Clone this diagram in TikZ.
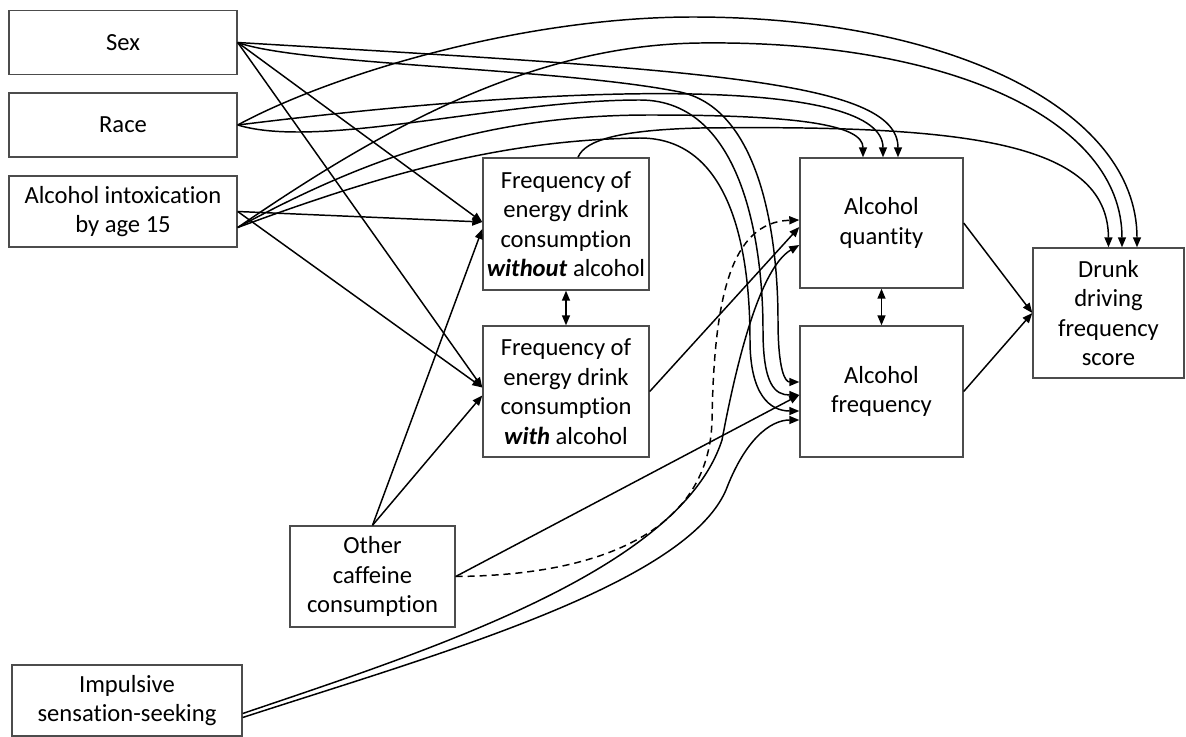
\documentclass[tikz,border=0pt]{standalone}
\usepackage{fontspec}
\setmainfont{Carlito}[Ligatures=NoCommon]
\usetikzlibrary{calc,arrows.meta}

\begin{document}
\begin{tikzpicture}[x=0.025cm, y=-0.025cm,
	box/.style 2 args={draw=black!70, line width=1pt, align=center, inner sep=0pt,
		minimum width=#1*0.025cm, minimum height=#2*0.025cm, font=\fontsize{17.5}{21}\selectfont},
	arr/.style={line width=1.05pt, -{Triangle[length=2.5mm,width=2mm]}},
	dbl/.style={line width=1.05pt, {Triangle[length=2.5mm,width=2mm]}-{Triangle[length=2.5mm,width=2mm]}},
	nonsig/.style={dash pattern=on 5pt off 3.5pt}]
			%%%%% START %%%%%
			\useasboundingbox (0,0) rectangle (1186,737);
			
			% covariates
			\node[box={228}{64}] (sex) at (123,42.5) {Sex};
			\node[box={228}{64}] (race) at (123,125) {Race};
			\node[box={228}{71}] (intox) at (123,211.5) {Alcohol intoxication\\by age 15};
			
			% energy drinks
			\node[box={166}{132}] (edno) at (566,224) {Frequency of\\energy drink\\consumption\\\textbf{\textit{without}} alcohol};
			\node[box={166}{131}] (edw) at (566,391.5) {Frequency of\\energy drink\\consumption\\\textbf{\textit{with}} alcohol};
			
			% alcohol use
			\node[box={163}{130}] (aq) at (881.5,223) {Alcohol\\quantity};
			\node[box={163}{131}] (af) at (881.5,391.5) {Alcohol\\frequency};
			\node[box={151}{130}] (dd) at (1108.5,313) {Drunk\\driving\\frequency\\score};
			
			\node[box={165}{101}] (oc) at (372.5,576.5) {Other\\caffeine\\consumption};
			\node[box={230}{71}] (imp) at (127,700.5) {Impulsive\\sensation-seeking};
			
			% straight paths
			\draw[arr] (sex.east) -- ($(edno.west)+(0,-2)$);
			\draw[arr] (sex.east) -- ($(edw.west)+(0,-4)$);
			\draw[arr] (intox.east) -- ($(edno.west)+(0,-2)$);
			\draw[arr] (intox.east) -- ($(edw.west)+(0,-4)$);
			\draw[arr] (oc.north) -- ($(edno.west)+(0,5)$);
			\draw[arr] (oc.north) -- ($(edw.west)+(0,4)$);
			\draw[arr] (oc.east) -- ($(af.west)+(0,3.5)$);
			\draw[arr] (edw.east) -- ($(aq.west)+(0,4)$);
			\draw[arr] (aq.east) -- (dd.west);
			\draw[arr] (af.east) -- (dd.west);
			\draw[dbl] (edno.south) -- (edw.north);
			\draw[dbl] (aq.south) -- (af.north);
			
			% sex
			\draw[arr] (sex.east) .. controls (700,70) and (898,80) .. ($(aq.north)+(16.5,0)$);
			\draw[arr] (sex.east) .. controls (300,65) and (560,68) .. (680,92)
				.. controls (765,110) and (778,250) .. (778,320)
				.. controls (778,370) and (785,382) .. ($(af.west)+(0,-9.5)$);
			
			% race
			\draw[arr] (race.east) .. controls (330,75) and (520,17) .. (693,17)
				.. controls (950,17) and (1137,110) .. ($(dd.north)+(28.5,0)$);
			\draw[arr] (race.east) .. controls (600,80) and (883,80) .. ($(aq.north)+(1.5,0)$);
			\draw[arr] (race.east) .. controls (320,150) and (500,100) .. (640,100)
				.. controls (745,100) and (763,250) .. (763,330)
				.. controls (763,385) and (775,395) .. ($(af.west)+(0,3.5)$);
			
			% intoxication by 15
			\draw[arr] ($(intox.east)+(0,16)$) .. controls (380,130) and (530,45) .. (700,43)
				.. controls (950,40) and (1122,120) .. ($(dd.north)+(13.5,0)$);
			\draw[arr] ($(intox.east)+(0,16)$) .. controls (380,150) and (500,115) .. (650,115)
				.. controls (800,115) and (863,125) .. ($(aq.north)+(-18.5,0)$);
			\draw[arr] ($(intox.east)+(0,16)$) .. controls (380,175) and (500,140) .. (640,138)
				.. controls (735,138) and (750,260) .. (750,340)
				.. controls (750,395) and (770,411) .. ($(af.west)+(0,19.5)$);
			
			% energy drink without alcohol
			\draw[arr] ($(edno.north)+(12,0)$) .. controls (585,140) and (620,130) .. (700,128)
				.. controls (960,125) and (1108,140) .. (dd.north);
			
			% other caffeine, impulsive
			\draw[arr, nonsig] (oc.east) .. controls (620,575) and (710,520) .. (712,420)
				.. controls (714,300) and (730,222) .. ($(aq.west)+(0,-3)$);
			\draw[arr] ($(imp.east)+(0,13)$) .. controls (430,650) and (680,570) .. (722,440)
				.. controls (737,360) and (760,268) .. ($(aq.west)+(0,22)$);
			\draw[arr] ($(imp.east)+(0,17)$) .. controls (435,655) and (685,585) .. (726,490)
				.. controls (745,440) and (770,420) .. ($(af.west)+(0,28.5)$);
			
			%%%%% END %%%%%
\end{tikzpicture}
\end{document}
